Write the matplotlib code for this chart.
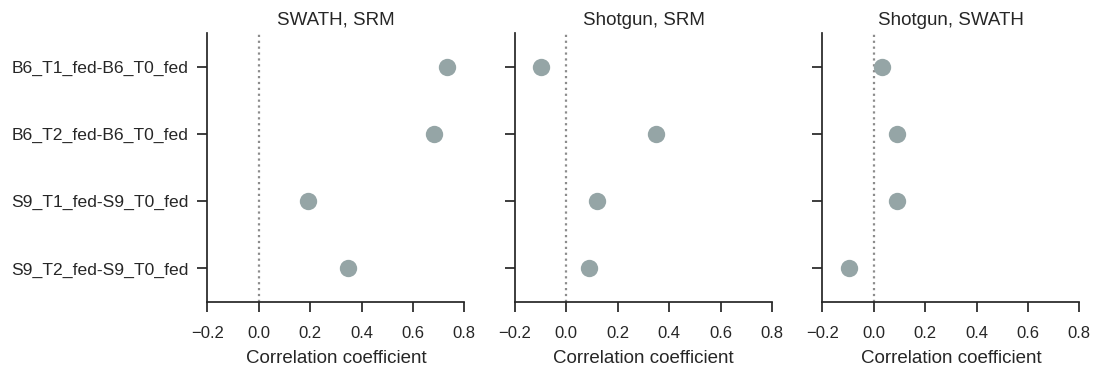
import numpy as np
import matplotlib
matplotlib.use("Agg")
import matplotlib.pyplot as plt
import seaborn as sns

# Correlation of fold changes between methods, per comparison
comparisons = [
    "B6_T1_fed-B6_T0_fed",
    "B6_T2_fed-B6_T0_fed",
    "S9_T1_fed-S9_T0_fed",
    "S9_T2_fed-S9_T0_fed",
]
panel_titles = ["SWATH, SRM", "Shotgun, SRM", "Shotgun, SWATH"]
swath_srm = [0.733, 0.681, 0.192, 0.346]
shotgun_srm = [-0.100, 0.347, 0.120, 0.088]
shotgun_swath = [0.033, 0.089, 0.089, -0.098]
xticks = [-0.2, 0.0, 0.2, 0.4, 0.6, 0.8]

sns.set_style("ticks")
plt.rcParams["font.family"] = ["Liberation Sans", "DejaVu Sans"]
plt.rcParams["axes.edgecolor"] = "#262626"
plt.rcParams["xtick.color"] = "#262626"
plt.rcParams["ytick.color"] = "#262626"
plt.rcParams["text.color"] = "#262626"

fig = plt.figure(figsize=(10.98, 3.72), dpi=100)
lefts = [0.1888, 0.4690, 0.7489]
width = 0.2341
bottom = 0.1882
height = 0.7231

ypos = np.arange(len(comparisons))
for i, (title, vals) in enumerate(zip(panel_titles,
                                      [swath_srm, shotgun_srm, shotgun_swath])):
    ax = fig.add_axes([lefts[i], bottom, width, height])
    ax.axvline(0, color="#8c8c8c", linestyle=":", linewidth=1.6, zorder=1)
    ax.plot(vals, ypos, "o", color="#95a5a6", markersize=12.5,
            markeredgewidth=0, zorder=3)
    ax.set_xlim(-0.2, 0.8)
    ax.set_ylim(len(comparisons) - 0.5, -0.5)
    ax.set_xticks(xticks)
    ax.set_xticklabels([f"{t:.1f}".replace("-", "\u2212") for t in xticks])
    ax.set_yticks(ypos)
    if i == 0:
        ax.set_yticklabels(comparisons)
    else:
        ax.set_yticklabels([])
    ax.tick_params(axis="both", length=7, width=1.25)
    ax.tick_params(axis="x", labelsize=12, pad=10)
    ax.tick_params(axis="y", labelsize=12.6, pad=6.5)
    for s in ("left", "bottom"):
        ax.spines[s].set_linewidth(1.25)
    for s in ("top", "right"):
        ax.spines[s].set_visible(False)
    ax.set_title(title, fontsize=13.5, pad=6)
    ax.set_xlabel("Correlation coefficient", fontsize=13.5, labelpad=7)

fig.savefig("out.png", dpi=100)
